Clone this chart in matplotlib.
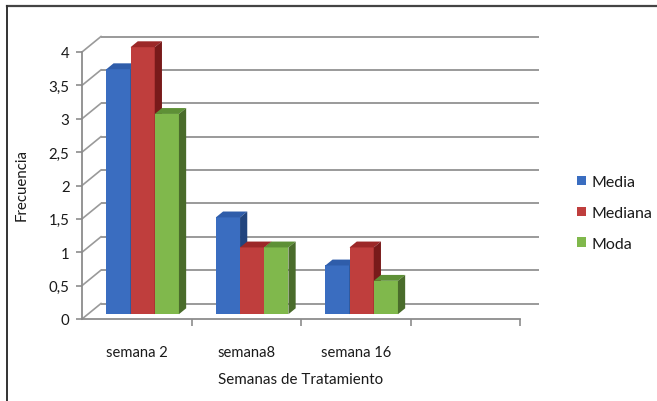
import matplotlib
matplotlib.use("Agg")
import matplotlib.pyplot as plt
from matplotlib.patches import Polygon, Patch
from matplotlib.lines import Line2D

plt.rcParams['font.family'] = ['Lato', 'DejaVu Sans']

categories = ["semana 2", "semana8", "semana 16", ""]
series_names = ["Media", "Mediana", "Moda"]
media = [3.67, 1.45, 0.73]
mediana = [4.0, 1.0, 1.0]
moda = [3.0, 1.0, 0.5]
yticks = [0, 0.5, 1, 1.5, 2, 2.5, 3, 3.5, 4]
ytick_labels = ["0", "0,5", "1", "1,5", "2", "2,5", "3", "3,5", "4"]
xlabel = "Semanas de Tratamiento"
ylabel = "Frecuencia"

front_colors = ["#3A6DC0", "#BF3E3D", "#80B84C"]
top_colors = ["#2F5DAA", "#9C2828", "#5E9036"]
side_colors = ["#22457E", "#781A1A", "#4A6C2B"]
text_c = "#1A1A1A"

W, H = 657, 402
fig = plt.figure(figsize=(W / 100, H / 100), dpi=100)
fig.patch.set_facecolor("white")

# pixel geometry of the plot frame
x0px, x4px = 82, 520
y0px, y4px = 320, 53
ux = (x4px - x0px) / 4.0
uy = (y0px - y4px) / 4.0
xlim = (-0.6, 4.6)
ylim = (-0.3, 4.6)
left = x0px + xlim[0] * ux
bottom = (H - y0px) + ylim[0] * uy
ax = fig.add_axes([left / W, bottom / H, (xlim[1] - xlim[0]) * ux / W,
                   (ylim[1] - ylim[0]) * uy / H])
ax.set_xlim(*xlim)
ax.set_ylim(*ylim)
ax.set_facecolor("none")

# depth offsets (full depth of the wall) in data units
DX = 19 / ux
DY = 15.5 / uy
d0, d1 = 0.31, 0.69

grid_c = "#9A9A9A"
ncat = len(categories)
for yv in yticks:
    ax.plot([DX, ncat + DX], [yv + DY, yv + DY], color=grid_c, lw=1.4, zorder=1,
            solid_capstyle="butt")
    ax.plot([0, DX], [yv, yv + DY], color=grid_c, lw=1.2, zorder=1)

# bars
data = [media, mediana, moda]
nser = len(data)
bw = 0.221
group_w = bw * nser
for ci in range(len(media)):
    for si in range(nser):
        v = data[si][ci]
        xl = ci + (1 - group_w) / 2 + si * bw + d0 * DX
        yb = d0 * DY
        ddx = (d1 - d0) * DX
        ddy = (d1 - d0) * DY
        z = 3 + ci * 10 + si * 2
        ax.bar(xl, v, width=bw, bottom=yb, align="edge", color=front_colors[si],
               edgecolor="none", zorder=z)
        top = Polygon([(xl, yb + v), (xl + bw, yb + v), (xl + bw + ddx, yb + v + ddy),
                       (xl + ddx, yb + v + ddy)], closed=True,
                      facecolor=top_colors[si], edgecolor="none", zorder=z)
        side = Polygon([(xl + bw, yb), (xl + bw + ddx, yb + ddy), (xl + bw + ddx, yb + v + ddy),
                        (xl + bw, yb + v)], closed=True,
                       facecolor=side_colors[si], edgecolor="none", zorder=z)
        ax.add_patch(top)
        ax.add_patch(side)

# axes spines
for s in ["top", "right"]:
    ax.spines[s].set_visible(False)
ax.spines["left"].set_position(("data", 0))
ax.spines["bottom"].set_position(("data", 0))
ax.spines["left"].set_bounds(0, 4)
ax.spines["bottom"].set_bounds(0, ncat)
for s in ["left", "bottom"]:
    ax.spines[s].set_color("#8C8C8C")
    ax.spines[s].set_linewidth(1.3)
    ax.spines[s].set_zorder(50)

ax.set_yticks(yticks)
ax.set_yticklabels(ytick_labels)
ax.set_xticks([i + 0.5 for i in range(ncat)])
ax.set_xticklabels(categories)
ax.set_xticks(list(range(1, ncat + 1)), minor=True)
ax.tick_params(axis="y", length=4, width=1.2, color="#8C8C8C", pad=5,
               labelsize=10.8, labelcolor=text_c)
ax.tick_params(axis="x", which="major", length=0, pad=19, labelsize=10.6,
               labelcolor=text_c)
ax.tick_params(axis="x", which="minor", length=5, width=1.2, color="#8C8C8C")

fig.text(301 / W, 1 - 380 / H, xlabel, ha="center", va="center", fontsize=10.9,
         color=text_c)
fig.text(22 / W, 1 - 185 / H, ylabel, ha="center", va="center", rotation=90,
         fontsize=10.8, color=text_c)

handles = [Patch(facecolor=c, edgecolor="none") for c in front_colors]
fig.legend(handles, series_names, loc="center left",
           bbox_to_anchor=(563 / W, 1 - 214 / H), frameon=False, fontsize=11.5,
           handlelength=0.55, handleheight=0.55, handletextpad=0.35, labelspacing=1.05,
           labelcolor=text_c)

# outer frame (top and left edges visible)
fig.add_artist(Line2D([6.5 / W, 1.0], [1 - 7 / H, 1 - 7 / H], transform=fig.transFigure,
                      color="#444444", lw=1.6))
fig.add_artist(Line2D([6.5 / W, 6.5 / W], [0.0, 1 - 7 / H], transform=fig.transFigure,
                      color="#333333", lw=1.4))

fig.savefig("out.png", dpi=100)
